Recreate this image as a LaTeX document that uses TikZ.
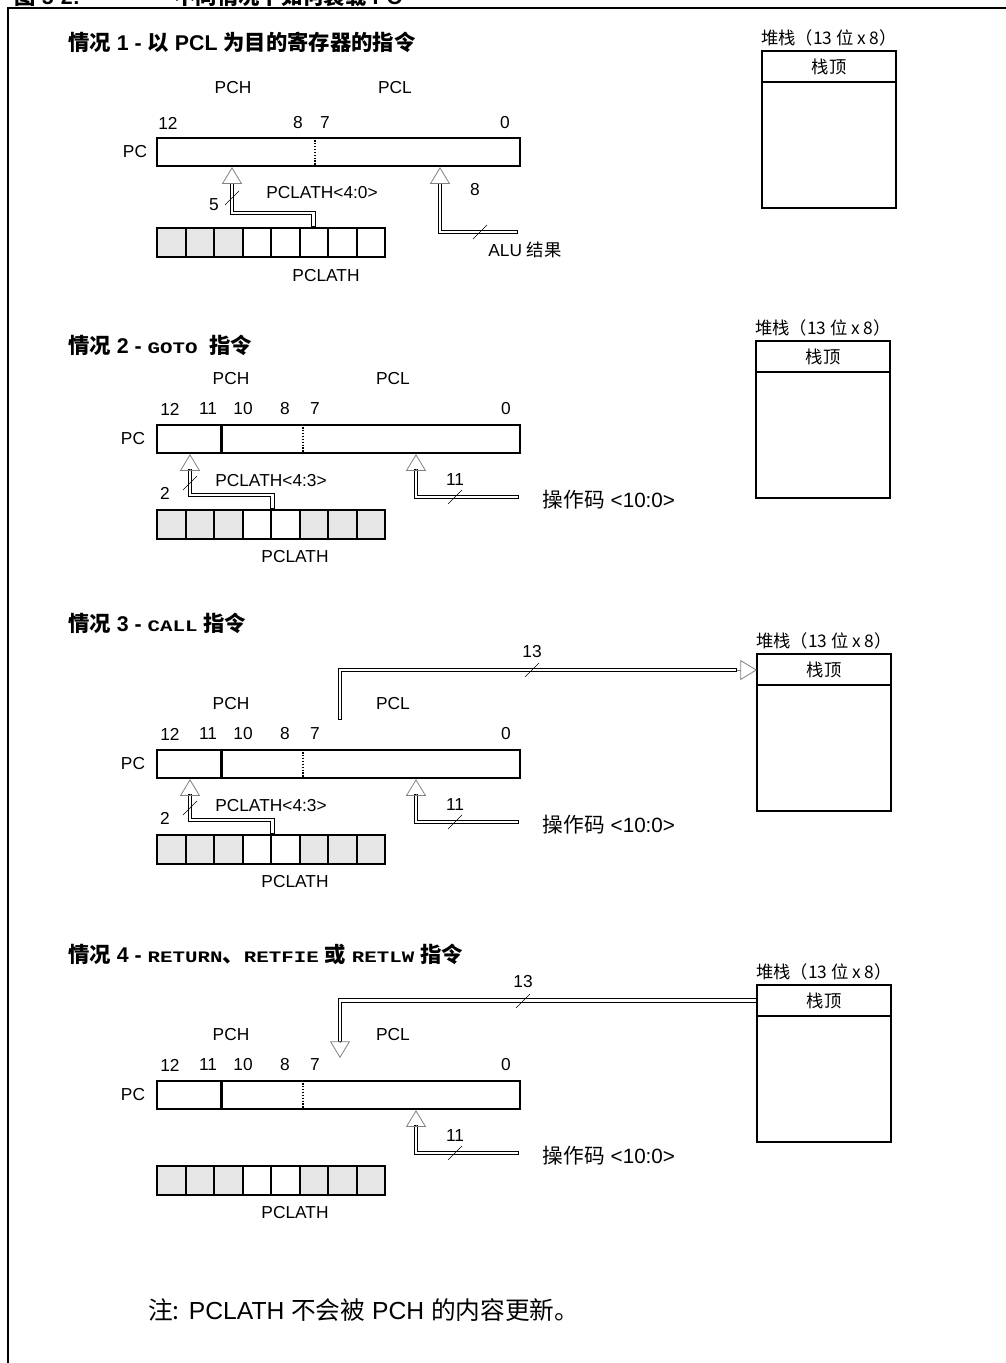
\documentclass[tikz,border=0pt]{standalone}
\usepackage{fontspec}
\setmainfont{Liberation Sans}
\newfontfamily\cjk{Noto Sans CJK SC}
\newfontfamily\code[FakeStretch=1.3]{Liberation Mono}
\usetikzlibrary{arrows.meta, positioning}
\definecolor{cellgrey}{HTML}{E6E6E6}
\newlength\px
\setlength\px{0.75pt}
\newcommand\instr[1]{{\code\fontsize{12}{14}\selectfont #1}}

\begin{document}
\begin{tikzpicture}[
        x=0.75pt, y=-0.75pt,
        font=\fontsize{13}{15}\selectfont,
        hdr/.style={anchor=west, inner sep=0pt, font=\fontsize{16}{18}\selectfont\bfseries},
        reg/.style={draw, line width=1.6pt, minimum width=363\px, minimum height=28\px, inner sep=0pt, anchor=north west},
        cell/.style={draw, line width=1.6pt, minimum width=28.5\px, minimum height=29\px, inner sep=0pt, anchor=north west},
        stktop/.style={draw, line width=1.6pt, minimum width=134\px, minimum height=31\px, inner sep=0pt, outer sep=0pt, anchor=north west, font=\cjk\fontsize{13}{15}\selectfont},
        stkbody/.style={draw, line width=1.6pt, minimum width=134\px, minimum height=126\px, inner sep=0pt, outer sep=0pt, below=0pt of #1},
        stklbl/.style={above=0pt of #1, font=\cjk\fontsize{13}{15}\selectfont},
        bus/.style={line width=3.6pt, postaction={draw=white, line width=2.2pt, shorten <=0.7pt, shorten >=0.7pt}},
        head/.style={-{Triangle[open, length=12.5pt, width=15pt]}, gray, line width=0.6pt},
        tick/.style={line width=0.4pt},
        divider/.style={densely dotted, line width=1.2pt}
    ]
    \useasboundingbox (0,0) rectangle (1006,1363);

    % title, cut at the top edge
    \begin{scope}
        \clip (0,0) rectangle (1006,1363);
        \node[anchor=base west, font=\fontsize{16}{18}\selectfont\bfseries] (title) at (10,5) {{\cjk 图} 5-2:\hspace{71pt}{\cjk 不同情况下如何装载} PC};
    \end{scope}
    \draw[line width=2pt] (8,1363) -- (8,8) -- (1006,8);

    % stacks
    \foreach \k/\x/\y in {1/762/51, 2/756/341, 3/757/654, 4/757/985} {
        \node[stktop] (top\k) at (\x,\y) {栈顶};
        \node[stkbody=top\k] (stk\k) {};
        \node[stklbl=top\k] (sl\k) {堆栈（13 位 x 8）};
    }

    % case 1
    \node[hdr] (h1) at (68,42) {{\cjk 情况} 1 - {\cjk 以} PCL {\cjk 为目的寄存器的指令}};
    \node (pch1) at (233,88) {PCH};
    \node (pcl1) at (395,88) {PCL};
    \foreach \t/\x in {12/168, 8/298, 7/325, 0/505}
        \node (b1-\t) at (\x,123) {\t};
    \node (pcn1) at (135,152) {PC};
    \node[reg] (pc1) at (156,137) {};
    \draw[divider] (315,137) -- ++(0,28);
    \foreach \i/\c in {0/cellgrey, 1/cellgrey, 2/cellgrey, 3/white, 4/white, 5/white, 6/white, 7/white}
        \node[cell, fill=\c] (lat1-\i) at ({156+28.5*\i},227) {};
    \node (lath1) at (326,276) {PCLATH};
    \coordinate (hl1) at (232,183);
    \coordinate (alu1) at (518,232);
    \coordinate (hr1) at (440,183);
    \draw[bus] (lat1-5.north) -- ++(0,-14) -| (hl1);
    \draw[head] (hl1) -- (hl1 |- pc1.south);
    \draw[tick] (232,198) +(-7,7) -- +(7,-7);
    \node (wa1) at (214,205) {5};
    \node (pl1) at (322,193) {PCLATH<4:0>};
    \draw[bus] (alu1) -| (hr1);
    \draw[head] (hr1) -- (hr1 |- pc1.south);
    \draw[tick] (480,232) +(-7,7) -- +(7,-7);
    \node (wb1) at (475,190) {8};
    \node (alu) at (525,250) {ALU {\cjk 结果}};

    % cases 2 to 4
    \node[hdr] (h2) at (68,345) {{\cjk 情况} 2 - \instr{GOTO}\ \ {\cjk 指令}};
    \node[hdr] (h3) at (68,623) {{\cjk 情况} 3 - \instr{CALL} {\cjk 指令}};
    \node[hdr] (h4) at (68,954) {{\cjk 情况} 4 - \instr{RETURN}{\cjk 、}\instr{RETFIE} {\cjk 或} \instr{RETLW} {\cjk 指令}};
    \foreach \k/\y in {2/424, 3/749, 4/1080} {
        \node (pch\k) at (231,{\y-45}) {PCH};
        \node (pcl\k) at (393,{\y-45}) {PCL};
        \foreach \t/\x in {12/170, 11/208, 10/243, 8/285, 7/315, 0/506}
            \node (b\k-\t) at (\x,{\y-15}) {\t};
        \node (pcn\k) at (133,{\y+15}) {PC};
        \node[reg] (pc\k) at (156,\y) {};
        \draw[line width=1.6pt] (221.5,\y) -- ++(0,28);
        \draw[divider] (303,\y) -- ++(0,28);
        \foreach \i/\c in {0/cellgrey, 1/cellgrey, 2/cellgrey, 3/white, 4/white, 5/cellgrey, 6/cellgrey, 7/cellgrey}
            \node[cell, fill=\c] (lat\k-\i) at ({156+28.5*\i},{\y+85}) {};
        \node (lath\k) at (295,{\y+133}) {PCLATH};
        \coordinate (op\k) at (519,{\y+73});
        \coordinate (hr\k) at (416,{\y+45});
        \draw[bus] (op\k) -| (hr\k);
        \draw[head] (hr\k) -- (hr\k |- pc\k.south);
        \draw[tick] (455,{\y+73}) +(-7,7) -- +(7,-7);
        \node (wb\k) at (455,{\y+56}) {11};
        \node[font=\fontsize{15.5}{17}\selectfont] (opc\k) at (609,{\y+76}) {{\cjk 操作码} <10:0>};
    }
    \foreach \k/\y in {2/424, 3/749} {
        \coordinate (hl\k) at (190,{\y+45});
        \draw[bus] (lat\k-3.north east) -- ++(0,-14) -| (hl\k);
        \draw[head] (hl\k) -- (hl\k |- pc\k.south);
        \draw[tick] (190,{\y+59}) +(-7,7) -- +(7,-7);
        \node (wa\k) at (165,{\y+69}) {2};
        \node (pl\k) at (271,{\y+57}) {PCLATH<4:3>};
    }

    % PC to stack (CALL)
    \coordinate (pcl3top) at (340,720);
    \coordinate (hs3) at (737,670);
    \draw[bus] (pcl3top) |- (hs3);
    \draw[head] (hs3) -- (hs3 -| top3.west);
    \draw[tick] (532,670) +(-7,7) -- +(7,-7);
    \node (ws3) at (532,652) {13};

    % stack to PC (RETURN)
    \coordinate (hs4) at (340,1042);
    \coordinate (tip4) at (340,1058);
    \draw[bus] (top4.west) -| (hs4);
    \draw[head] (hs4) -- (tip4);
    \draw[tick] (523,1001) +(-7,7) -- +(7,-7);
    \node (ws4) at (523,982) {13};

    \node[anchor=west, inner sep=0pt, font=\fontsize{18.5}{21}\selectfont] (note) at (148,1310) {{\cjk 注:} PCLATH {\cjk 不会被} PCH {\cjk 的内容更新。}};
\end{tikzpicture}
\end{document}
